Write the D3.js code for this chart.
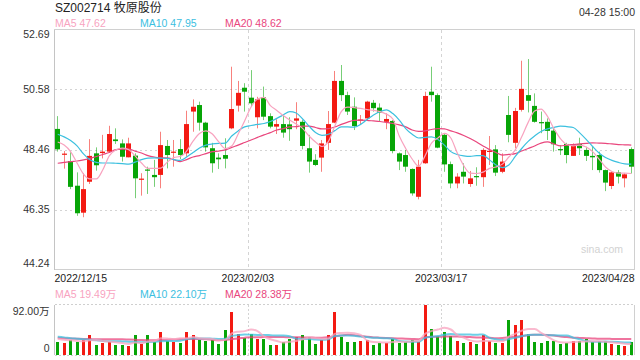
<!DOCTYPE html>
<html><head><meta charset="utf-8">
<script src="https://cdn.jsdelivr.net/npm/d3@7/dist/d3.min.js"></script>
<style>
html,body{margin:0;padding:0;background:#fff;}
svg{display:block;font-family:"Liberation Sans",Arial,"Noto Sans CJK SC",sans-serif;}
</style></head><body>
<svg id="c" width="640" height="360"></svg>
<script>
const title = "SZ002714 牧原股份";
const timeLabel = "04-28 15:00";
const dateTicks = ["2022/12/15","2023/02/03","2023/03/17","2023/04/28"];
const priceTicks = [52.69, 50.58, 48.46, 46.35, 44.24];
const volTicks = [92, 0];

const opens = [49.19,48.28,48.06,47.19,46.24,47.33,48.33,48.34,48.39,48.82,
48.68,48.19,48.25,47.40,47.76,47.57,47.57,48.59,48.35,48.48,
48.33,49.80,50.03,49.41,48.51,48.18,48.27,49.21,50.01,50.64,
50.29,49.60,50.30,49.64,49.27,49.36,49.35,49.48,49.44,48.51,
48.10,48.18,48.70,49.41,50.88,50.38,49.97,49.48,49.56,50.11,
49.94,49.44,49.47,48.33,48.27,47.78,46.80,47.98,50.50,50.38,
48.98,47.95,47.27,47.68,47.25,47.53,47.49,48.38,48.47,47.68,
49.68,48.70,49.86,50.38,50.00,49.43,49.44,49.13,48.48,48.66,
48.24,48.66,48.45,48.24,48.27,47.74,47.18,47.66,47.45,48.48];
const highs = [49.64,48.41,48.37,47.66,47.63,48.83,48.54,48.98,49.30,49.21,
48.82,48.88,48.33,47.63,47.86,48.10,49.09,48.80,48.80,48.83,
49.83,50.23,50.15,49.44,48.70,48.33,48.86,51.38,50.88,50.80,
51.26,50.32,50.68,49.74,49.53,49.68,49.60,50.13,49.50,48.98,
48.30,48.80,49.82,51.23,51.44,50.50,50.30,49.68,50.18,50.21,
50.09,49.74,49.50,48.36,48.45,47.80,48.10,50.50,51.38,50.44,
49.04,48.04,47.63,47.98,47.71,47.84,48.51,48.94,48.62,48.33,
50.35,49.93,51.59,51.65,50.44,49.80,49.56,49.25,48.62,48.70,
48.68,48.88,48.56,48.56,48.39,47.76,47.70,47.74,47.63,48.54];
const lows = [48.39,47.79,47.07,46.13,46.08,47.25,47.72,48.15,48.35,48.66,
48.04,48.19,46.75,46.84,46.90,47.15,47.10,47.80,47.86,48.13,
48.21,49.09,49.13,48.39,47.65,47.78,47.80,49.18,49.80,49.80,
49.97,49.21,49.50,49.21,49.01,48.88,48.77,49.18,48.47,47.65,
47.88,47.68,48.45,49.39,50.17,49.68,49.15,49.33,49.50,49.80,
49.44,49.18,48.33,47.74,47.68,46.84,46.71,47.96,50.15,48.51,
47.68,47.10,47.10,47.27,47.15,47.19,47.15,47.92,47.53,47.63,
48.72,48.51,49.80,49.77,49.41,49.04,48.80,48.39,48.27,47.98,
48.24,48.27,48.06,47.74,47.65,47.00,47.07,47.27,47.13,47.62];
const closes = [48.47,48.32,47.15,46.22,47.07,48.24,47.91,48.39,49.01,48.76,
48.21,48.68,47.45,47.44,47.73,47.49,48.62,48.27,48.39,48.27,
49.36,49.97,49.41,48.54,47.98,48.12,48.14,49.89,50.46,50.50,
50.09,50.23,49.62,49.27,49.36,49.06,49.18,49.56,48.59,48.04,
47.92,48.68,49.36,50.88,50.38,49.80,49.29,49.52,50.15,49.92,
49.76,49.54,48.41,48.04,47.86,46.92,47.86,50.35,50.38,48.53,
47.94,47.27,47.51,47.51,47.45,47.49,48.45,48.42,47.65,48.04,
48.98,49.82,50.60,50.18,49.44,49.39,49.12,48.65,48.44,48.27,
48.62,48.51,48.24,48.19,47.74,47.30,47.66,47.51,47.59,47.86];

const ma5 = [48.73,48.62,48.39,47.99,47.60,47.43,47.43,47.75,48.24,48.45,
48.51,48.46,48.24,47.99,47.80,47.80,47.81,48.02,48.18,48.22,
48.41,48.76,49.03,49.12,49.01,48.73,48.50,48.59,49.01,49.47,
49.96,50.24,50.30,50.01,49.84,49.66,49.50,49.36,49.21,48.94,
48.73,48.57,48.75,49.29,49.80,49.96,49.94,49.91,49.87,49.84,
49.80,49.71,49.54,48.94,48.50,48.13,47.88,48.24,48.69,48.87,
49.03,48.87,48.34,47.90,47.63,47.62,47.67,47.80,47.85,47.95,
48.20,48.45,48.91,49.42,49.82,49.89,49.63,49.20,48.85,48.64,
48.59,48.62,48.55,48.39,48.13,47.85,47.69,47.63,47.63,47.62];
const ma10 = [49.00,48.91,48.78,48.59,48.31,48.10,48.01,47.99,47.99,47.98,
47.97,47.95,48.02,48.11,48.16,48.17,48.16,48.15,48.11,48.08,
48.20,48.36,48.52,48.62,48.66,48.68,48.69,48.94,49.12,49.26,
49.31,49.35,49.38,49.45,49.56,49.68,49.80,49.75,49.54,49.29,
49.06,48.96,49.00,49.13,49.26,49.26,49.25,49.35,49.52,49.68,
49.80,49.86,49.73,49.50,49.20,49.00,48.87,48.89,48.91,48.82,
48.62,48.39,48.29,48.24,48.22,48.25,48.25,48.10,47.92,47.83,
47.92,48.22,48.50,48.75,48.94,49.10,49.19,49.24,49.29,49.27,
49.24,49.05,48.82,48.57,48.34,48.18,48.08,48.01,47.96,47.95];
const ma20 = [47.98,48.01,48.04,48.06,48.10,48.15,48.22,48.29,48.36,48.46,
48.48,48.48,48.41,48.34,48.25,48.20,48.17,48.17,48.11,48.04,
48.11,48.20,48.25,48.32,48.39,48.41,48.45,48.54,48.62,48.71,
48.80,48.89,48.98,49.06,49.15,49.20,49.26,49.27,49.29,49.29,
49.24,49.19,49.20,49.26,49.35,49.43,49.49,49.50,49.49,49.47,
49.45,49.42,49.38,49.33,49.26,49.15,49.10,49.12,49.17,49.20,
49.19,49.12,49.05,48.96,48.85,48.73,48.59,48.46,48.36,48.27,
48.29,48.32,48.41,48.50,48.59,48.69,48.73,48.66,48.59,48.62,
48.64,48.66,48.68,48.70,48.69,48.68,48.66,48.64,48.63,48.62];

const volumes = [22.6,20.8,27.6,23.4,26.3,35,17,20.8,23.4,17,
17,15.3,36.8,19,35,22.6,40.5,24.5,22.6,20.8,
42.3,35,26.3,24.5,27.6,20.2,44.2,77.3,38.6,30.7,
38.6,29.4,29.4,16.6,18.4,23.4,29.4,32.5,35,32.5,
20.2,26.3,35,77.3,32.5,22.6,22.6,24.5,27.6,17,
20.8,20.8,29.4,21.5,22.6,27.6,23.4,92,47.8,33.7,
42.3,33.7,24.5,20.8,22.6,19,36.8,24.5,20.8,20.8,
62.6,53.4,62.6,38.6,22.6,20.8,24.5,24.5,19,20.8,
24.5,24.5,29.4,22.6,24.5,24.5,19,17,15.3,22.6];
const vma5 = [28.9,27,26,25,24.5,26,26.5,25,24,22.5,
21,19.5,22,21,24,25,30,29.5,28,30,
30,32,30,29,28.5,26,27,39,42,43,
46,43,33.5,28,25,22,23.5,25,28,31,
30.5,29,29.5,38,39.5,40,39,36,26,23,
22.5,22,23,24,23,24.5,25,38,43,46,
49,46,36,31,26,24,25,25,24.5,24.5,
33,38,44,47,47,40,33,26,22.5,22,
23,23.5,24,24.5,24.5,23.5,22.5,21,20,19.49];
const vma10 = [32.6,31.5,30,29,28,27,26,25,24.5,24.5,
24,23.5,23,22.6,23,23.5,24.5,25,25,25.5,
28,30,29.5,29.5,29,28.6,29,34,35.8,36.8,
36.5,36,36,35.5,34.8,34.8,33.5,29,28.5,28.5,
27.5,27,28,34,35,35,34.5,33,32,30.7,
30.5,30,29,25,24,23.5,23.5,30.5,32.5,34,
36.5,37.5,37,37,36.8,36.3,37,30.7,28,26.5,
28.5,30.6,33.5,36,36.3,36.5,35.5,35.2,35,34.8,
31,28,25,23.5,23.5,23.8,23.3,22.8,22.3,22.1];
const vma20 = [30.7,30,29.5,29,28.5,28.3,28,28,28,28,
28,27.5,27,26.5,26.3,26.3,26.5,27,27.5,28,
28.5,28.5,28.5,28,27,26.3,27,28.5,29.5,31,
31.9,31.9,32,32,32,32,31.8,31.8,31.5,31.5,
31,31,31.9,33.5,35,36.2,35.5,34,32.6,31.5,
31,30.5,30,29.5,28.9,28.5,28.2,31.9,32.6,32.6,
33,33,33,32.5,32,31.5,31,30.7,30,30.5,
31.5,32.6,34,35.5,36.5,36.5,36,35,33,32,
31,30.5,30,29.5,28.9,28.9,28.7,28.5,28.4,28.38];

const UP = "#f31a12", DOWN = "#07a507";
const C5 = "#f8a3bf", C10 = "#3cc0df", C20 = "#e9467d";

const svg = d3.select("#c");
const L = 54.5, R = 634.5, PT = 29.5, PB = 269.5, VT = 304.5, VB = 354.5;
const n = closes.length;
const idx = d3.range(n);
const x = d3.scaleBand().domain(idx).range([L, R]).paddingInner(0.22).paddingOuter(0.11);
const cx = i => x(i) + x.bandwidth() / 2;
const y = d3.scaleLinear().domain([44.24, 52.69]).range([PB, PT]);
const vy = d3.scaleLinear().domain([0, 92]).range([VB, VT]);
const xf = d3.scaleLinear().domain([0, 1]).range([L, R]);
const f2 = d3.format(".2f");

// header
svg.append("text").attr("x", 55).attr("y", 12).attr("font-size", 12).attr("fill", "#222").text(title);
svg.append("text").attr("x", 635).attr("y", 16).attr("font-size", 10.5).attr("fill", "#333").attr("text-anchor", "end").text(timeLabel);

const legend = [["MA5", ma5, C5], ["MA10", ma10, C10], ["MA20", ma20, C20]];
legend.forEach((d, k) => {
  svg.append("text").attr("x", 55 + k * 85).attr("y", 27).attr("font-size", 10.5).attr("fill", d[2])
    .text(d[0] + " " + f2(d[1][n - 1]));
});

// price grid
const g = svg.append("g").attr("shape-rendering", "crispEdges");
priceTicks.slice(1, -1).forEach(t => {
  g.append("line").attr("x1", L).attr("x2", R).attr("y1", Math.round(y(t)) + 0.5).attr("y2", Math.round(y(t)) + 0.5)
    .attr("stroke", "#d4d4d4").attr("stroke-dasharray", "2,3");
});
[1 / 3, 2 / 3].forEach(f => {
  const xx = Math.round(xf(f)) + 0.5;
  g.append("line").attr("x1", xx).attr("x2", xx).attr("y1", PT).attr("y2", PB).attr("stroke", "#d4d4d4").attr("stroke-dasharray", "3,3");
  g.append("line").attr("x1", xx).attr("x2", xx).attr("y1", VT).attr("y2", VB).attr("stroke", "#d4d4d4").attr("stroke-dasharray", "2,2");
});
g.append("rect").attr("x", L).attr("y", PT).attr("width", R - L).attr("height", PB - PT).attr("fill", "none").attr("stroke", "#d0d0d0");
g.append("line").attr("x1", L).attr("x2", L).attr("y1", PT).attr("y2", PB).attr("stroke", "#c4c4c4");

// y labels
priceTicks.forEach((t, k) => {
  const yy = y(t);
  const base = k === 0 ? yy + 8.5 : (k === priceTicks.length - 1 ? yy - 3 : yy + 3.6);
  svg.append("text").attr("x", 49.5).attr("y", base).attr("text-anchor", "end").attr("font-size", 10.5).attr("fill", "#333").text(f2(t));
});

// date labels
dateTicks.forEach((t, k) => {
  const f = k / (dateTicks.length - 1);
  svg.append("text").attr("x", xf(f)).attr("y", 282).attr("font-size", 10.5).attr("fill", "#222")
    .attr("text-anchor", k === 0 ? "start" : (k === dateTicks.length - 1 ? "end" : "middle")).text(t);
});

// watermark
svg.append("text").attr("x", 623).attr("y", 253).attr("text-anchor", "end").attr("font-size", 10.5).attr("fill", "#d2d2d2").text("sina.com");

// candles
const cg = svg.append("g");
idx.forEach(i => {
  const up = closes[i] >= opens[i];
  const col = up ? UP : DOWN;
  const wx = Math.floor(cx(i)) + 0.5;
  cg.append("line").attr("x1", wx).attr("x2", wx).attr("y1", y(highs[i])).attr("y2", y(lows[i]))
    .attr("stroke", col).attr("stroke-opacity", 0.55).attr("stroke-width", 1);
  const top = y(Math.max(opens[i], closes[i])), bot = y(Math.min(opens[i], closes[i]));
  cg.append("rect").attr("x", Math.round(x(i))).attr("y", top).attr("width", 5).attr("height", Math.max(1.2, bot - top))
    .attr("fill", col);
});

// MA lines
const line = d3.line().x((d, i) => cx(i)).y(d => y(d)).curve(d3.curveMonotoneX);
[[ma20, C20], [ma10, C10], [ma5, C5]].forEach(d => {
  svg.append("path").attr("d", line(d[0])).attr("fill", "none").attr("stroke", d[1]).attr("stroke-width", 1.2);
});

// volume panel
const vlegend = [["MA5", vma5, C5], ["MA10", vma10, C10], ["MA20", vma20, C20]];
vlegend.forEach((d, k) => {
  svg.append("text").attr("x", 55 + k * 85).attr("y", 298).attr("font-size", 10.5).attr("fill", d[2])
    .text(d[0] + " " + f2(d[1][n - 1]) + "万");
});
const vg = svg.append("g").attr("shape-rendering", "crispEdges");
vg.append("line").attr("x1", L).attr("x2", R).attr("y1", VT).attr("y2", VT).attr("stroke", "#cfcfcf").attr("stroke-dasharray", "2,2");
vg.append("line").attr("x1", L).attr("x2", R).attr("y1", VB + 0.5).attr("y2", VB + 0.5).attr("stroke", "#cfcfcf").attr("stroke-dasharray", "2,2");
vg.append("line").attr("x1", L).attr("x2", L).attr("y1", VT).attr("y2", VB).attr("stroke", "#c4c4c4");
vg.append("line").attr("x1", R).attr("x2", R).attr("y1", VT).attr("y2", VB).attr("stroke", "#d0d0d0");
volTicks.forEach((t, k) => {
  svg.append("text").attr("x", 49.5).attr("y", k === 0 ? vy(t) + 10 : vy(t) - 3).attr("text-anchor", "end")
    .attr("font-size", 10.5).attr("fill", "#333").text(t === 0 ? "0" : f2(t) + "万");
});
idx.forEach(i => {
  const up = closes[i] >= opens[i];
  vg.append("rect").attr("x", Math.round(cx(i) - 1.5)).attr("y", vy(volumes[i])).attr("width", 3)
    .attr("height", VB - vy(volumes[i])).attr("fill", up ? UP : DOWN);
});
const vline = d3.line().x((d, i) => cx(i)).y(d => vy(d)).curve(d3.curveMonotoneX);
[[vma20, C20], [vma10, C10], [vma5, C5]].forEach(d => {
  svg.append("path").attr("d", vline(d[0])).attr("fill", "none").attr("stroke", d[1]).attr("stroke-width", 2).attr("stroke-opacity", 0.75);
});
</script>
</body></html>
